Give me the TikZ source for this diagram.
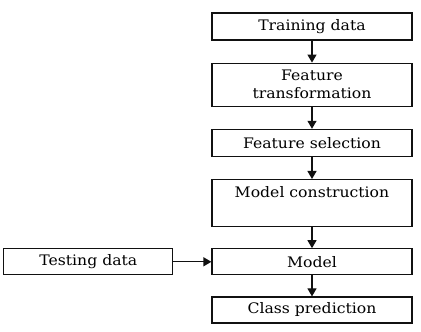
\documentclass[tikz,border=0pt]{standalone}
\usepackage{fontspec}
\setmainfont{DejaVu Serif}[FakeStretch=1.08]
\usepackage{tikz}
\usetikzlibrary{positioning,arrows.meta}
\definecolor{FlowLine}{HTML}{111111}

\begin{document}
\begin{tikzpicture}[x=1pt,y=1pt,
    stage/.style={draw=FlowLine,line width=1.2pt,minimum width=200pt,minimum height=27pt,
      inner sep=0pt,align=center,font=\fontsize{14.5}{18}\selectfont},
    flow/.style={draw=FlowLine,line width=1.2pt,-{Triangle[length=8pt,width=9pt]}},
    node distance=22pt]
      \useasboundingbox (0,0) rectangle (421,332);
      \node[stage] (train) at (312,305.5) {Training data};
      \node[stage,minimum height=43pt,below=of train] (transform) {Feature\\transformation};
      \node[stage,below=of transform] (select) {Feature selection};
      \node[stage,minimum height=47pt,below=of select] (construct) {};
      \node[stage,draw=none,minimum height=0pt] (constructlabel)
        at ([yshift=-13pt]construct.north) {Model construction};
      \node[stage,minimum height=26pt,below=21pt of construct] (model) {Model};
      \node[stage,minimum height=26pt,below=21pt of model] (predict) {Class prediction};
      \node[stage,minimum width=169pt,minimum height=26pt,left=38pt of model] (test) {Testing data};
      \draw[flow] (train) -- (transform);
      \draw[flow] (transform) -- (select);
      \draw[flow] (select) -- (construct);
      \draw[flow] (construct) -- (model);
      \draw[flow] (model) -- (predict);
      \draw[flow] (test) -- (model);
    \end{tikzpicture}
\end{document}
